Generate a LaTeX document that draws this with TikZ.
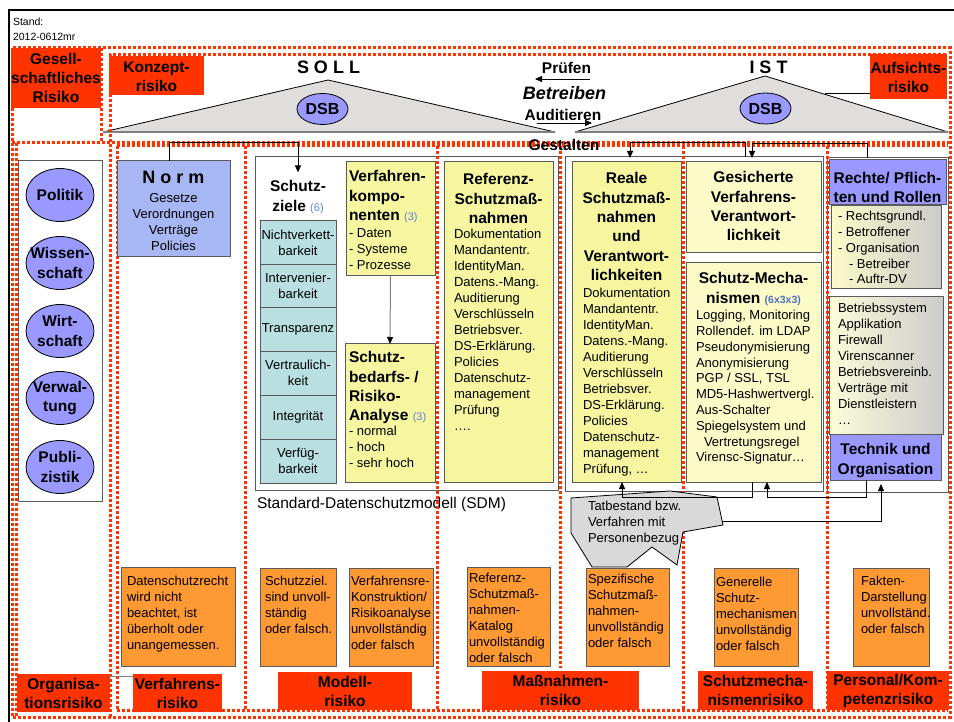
\documentclass[tikz,border=0pt]{standalone}
\usepackage{fontspec}
\setmainfont{Liberation Sans}
\usetikzlibrary{arrows.meta,shapes.geometric,fit}

\definecolor{riskred}{HTML}{FF3300}
\definecolor{riskorange}{HTML}{FF9933}
\definecolor{lila}{HTML}{9999FF}
\definecolor{normblau}{HTML}{A7B7F3}
\definecolor{gelb}{HTML}{F6F6A0}
\definecolor{hellgelb}{HTML}{FBFBC8}
\definecolor{zieltuerkis}{HTML}{B9DFE1}
\definecolor{hausgrau}{HTML}{E0DDDD}
\definecolor{tatgrau}{HTML}{D9D9D9}
\definecolor{rahmen}{HTML}{5A5A5A}
\definecolor{zahlblau}{HTML}{5B85E0}

% small blue counters inside the titles
\newcommand{\anz}[1]{{\color{zahlblau}\mdseries\fontsize{11}{11}\selectfont #1}}

\tikzset{
  risk/.style={draw=riskred, line width=3pt, dash pattern=on 3pt off 2pt},
  rlabel/.style={fill=riskred},
  rtext/.style={font=\bfseries\fontsize{15.5}{19}\selectfont, align=center},
  panel/.style={draw=rahmen, line width=1pt},
  ybox/.style={draw=rahmen, line width=1pt, fill=gelb},
  hbox/.style={draw=rahmen, line width=1pt, fill=hellgelb},
  lbox/.style={draw=rahmen, line width=1pt, fill=lila},
  obox/.style={draw=rahmen, line width=1pt, fill=riskorange},
  zelle/.style={draw=rahmen, line width=1pt, fill=zieltuerkis},
  ztext/.style={font=\fontsize{13}{16}\selectfont, align=center},
  body/.style={font=\fontsize{13}{16}\selectfont, align=left, anchor=north west},
  titel/.style={font=\bfseries\fontsize{15.5}{19.4}\selectfont, align=center, anchor=north},
  ltitel/.style={font=\bfseries\fontsize{15.5}{19.4}\selectfont, align=left, anchor=north west},
  ell/.style={ellipse, draw=black, line width=0.8pt, fill=lila, minimum width=68pt, minimum height=53pt},
  elltext/.style={font=\bfseries\fontsize{15.5}{19.5}\selectfont, align=center},
  dsb/.style={ellipse, draw=black, line width=0.8pt, fill=lila, minimum width=51pt, minimum height=31pt, font=\bfseries\fontsize{16}{16}\selectfont},
  mitte/.style={font=\bfseries\fontsize{15.5}{16}\selectfont},
  pfeil/.style={draw=black, line width=0.8pt, -{Triangle[width=6pt,length=7pt]}},
  pfeilgrau/.style={draw=gray, line width=1pt, -{Triangle[width=6pt,length=7pt,color=black,fill=black]}},
  linie/.style={draw=black, line width=0.8pt},
}

\begin{document}
\begin{tikzpicture}[x=1pt, y=-1pt, every node/.style={inner sep=0pt, outer sep=0pt}]
\useasboundingbox (0,0) rectangle (954,722);
\fill[white] (0,0) rectangle (954,722);

% page frame
\draw[line width=2.5pt] (954,10) -- (9,10) -- (9,722);
\node[anchor=north west, font=\fontsize{10.5}{15}\selectfont, align=left] (stand) at (13,17.5) {Stand:\\2012-0612mr};

% SOLL and IST roofs
\fill[hausgrau] (103,132) -- (328,80) -- (555,132) -- cycle;
\draw[line width=0.8pt] (103,132) -- (328,80) -- (555,132);
\fill[hausgrau] (575,132) -- (765,76) -- (948,132) -- cycle;
\draw[line width=0.8pt] (575,132) -- (765,76) -- (948,132);
\draw[line width=2pt, draw=gray] (103,132) -- (555,132) (575,132) -- (948,132);
\coordinate (istdach) at (825,93);

\node[font=\bfseries\fontsize{18}{18}\selectfont] (soll) at (328.5,67) {S O L L};
\node[font=\bfseries\fontsize{18}{18}\selectfont] (ist) at (768.5,67) {I S T};
\node[dsb] (dsbsoll) at (322.5,109) {DSB};
\node[dsb] (dsbist) at (765.5,108.5) {DSB};

% verbs between SOLL and IST
\node[mitte] (pruefen) at (566.5,68) {Prüfen};
\coordinate (pruefA) at (590,79);
\coordinate (pruefB) at (535,79);
\node[font=\bfseries\itshape\fontsize{18}{18}\selectfont] (betreiben) at (564.5,93) {Betreiben};
\node[mitte] (auditieren) at (563,115) {Auditieren};
\coordinate (audA) at (537,123);
\coordinate (audB) at (592,123);

% panels
\node[panel, fit={(18,161) (102,501)}] (links) {};
\node[panel, fit={(255,157) (558,490)}] (sdm) {};
\node[panel, fit={(565,157) (823,491)}] (istbox) {};
\node[panel, fit={(827,158) (948,492)}] (pbox) {};
\node[anchor=west, font=\fontsize{15.5}{16}\selectfont] (sdmname) at (257,504) {Standard-Datenschutzmodell (SDM)};

% risk areas (each dotted segment drawn once)
\draw[risk] (12,48) rectangle (950,717);
\draw[risk] (101,48) -- (101,143);
\draw[risk] (110,717) -- (110,55) -- (947,55);
\draw[risk] (12,143) -- (950,143);
\draw[risk] (16,143) -- (16,717);
\draw[risk] (117,146) -- (948,146);
\draw[risk] (117,710) -- (948,710);
\foreach \sx in {117,245,437,683,827} {
  \draw[risk] (\sx,146) -- (\sx,710);
}
\draw[risk] (560,146) -- (560,668);

\node[mitte] (gestalten) at (564,145) {Gestalten};

% society column
\node[ell, label={[elltext]center:Politik}] (politik) at (60,195) {};
\node[ell, label={[elltext]center:{Wissen-\\schaft}}] (wissenschaft) at (60,263) {};
\node[ell, label={[elltext]center:{Wirt-\\schaft}}] (wirtschaft) at (60,331) {};
\node[ell, label={[elltext]center:{Verwal-\\tung}}] (verwaltung) at (60,398) {};
\node[ell, label={[elltext]center:{Publi-\\zistik}}] (publizistik) at (60,467) {};

% norm
\node[draw=rahmen, line width=1pt, fill=normblau, fit={(117,161) (230,257)}] (norm) {};
\node[anchor=north, font=\bfseries\fontsize{18}{18}\selectfont] (normtitel) at (173.5,171.5) {N o r m};
\node[body, anchor=north, align=center] (normtext) at (173.5,193.3) {Gesetze\\Verordnungen\\Verträge\\Policies};

% protection goals
\node[titel] (szt) at (298,180.4) {Schutz-\\ziele \anz{(6)}};
\node[zelle, fit={(260,221) (336,264.5)}] (z1) {};
\node[zelle, fit={(260,264.5) (336,308)}] (z2) {};
\node[zelle, fit={(260,308) (336,351.5)}] (z3) {};
\node[zelle, fit={(260,351.5) (336,395)}] (z4) {};
\node[zelle, fit={(260,395) (336,439)}] (z5) {};
\node[zelle, fit={(260,439) (336,483)}] (z6) {};
\node[ztext] (z1t) at (z1.center) {Nichtverkett-\\barkeit};
\node[ztext] (z2t) at (z2.center) {Intervenier-\\barkeit};
\node[ztext] (z3t) at (z3.center) {Transparenz};
\node[ztext] (z4t) at (z4.center) {Vertraulich-\\keit};
\node[ztext] (z5t) at (z5.center) {Integrität};
\node[ztext] (z6t) at (z6.center) {Verfüg-\\barkeit};

% procedure components and risk analysis
\node[ybox, fit={(346,162) (435,276)}] (vk) {};
\node[ltitel] (vktitel) at (349,170.4) {Verfahren-\\kompo-\\nenten \anz{(3)}};
\node[body] (vktext) at (349,228.3) {- Daten\\- Systeme\\- Prozesse};
\node[ybox, fit={(345,344) (435,482)}] (sb) {};
\node[ltitel] (sbtitel) at (349,351.4) {Schutz-\\bedarfs- /\\Risiko-\\Analyse \anz{(3)}};
\node[body] (sbtext) at (349,426.3) {- normal\\- hoch\\- sehr hoch};

% reference measures
\node[ybox, fit={(444,162) (553,482)}] (ref) {};
\node[titel] (reftitel) at (498.5,173.4) {Referenz-\\Schutzmaß-\\nahmen};
\node[body] (reftext) at (454,229.3) {Dokumentation\\Mandantentr.\\IdentityMan.\\Datens.-Mang.\\Auditierung\\Verschlüsseln\\Betriebsver.\\DS-Erklärung.\\Policies\\Datenschutz-\\management\\Prüfung\\….};

% real measures
\node[ybox, fit={(572,162) (681,482)}] (reale) {};
\node[titel] (realetitel) at (626.5,172.4) {Reale\\Schutzmaß-\\nahmen\\und\\Verantwort-\\lichkeiten};
\node[body] (realetext) at (583,288.3) {Dokumentation\\Mandantentr.\\IdentityMan.\\Datens.-Mang.\\Auditierung\\Verschlüsseln\\Betriebsver.\\DS-Erklärung.\\Policies\\Datenschutz-\\management\\Prüfung, …};

% responsibility and mechanisms
\node[hbox, fit={(686,162) (821,253)}] (gvv) {};
\node[titel] (gvvtitel) at (753.5,171.4) {Gesicherte\\Verfahrens-\\Verantwort-\\lichkeit};
\node[hbox, fit={(686,263) (821,482)}] (smech) {};
\node[titel] (smechtitel) at (753.5,272.4) {Schutz-Mecha-\\nismen {\color{zahlblau!85!black}\fontsize{10.5}{10}\selectfont(6x3x3)}};
\node[body, font=\fontsize{13}{15.8}\selectfont] (smechtext) at (696,310.3) {Logging, Monitoring\\Rollendef. im LDAP\\Pseudonymisierung\\Anonymisierung\\PGP / SSL, TSL\\MD5-Hashwertvergl.\\Aus-Schalter\\Spiegelsystem und\\\hspace*{8pt}Vertretungsregel\\Virensc-Signatur…};

% rights, roles, technology
\node[lbox, fit={(829,160) (946,205)}] (rechte) {};
\node[titel, font=\bfseries\fontsize{15.5}{19}\selectfont] (rechtetitel) at (887.5,172.4) {Rechte/ Pflich-\\ten und Rollen};
\node[draw=rahmen, line width=1pt, left color=hellgelb, right color=gray!40, fit={(831,206) (941,289)}] (rgl) {};
\node[body, font=\fontsize{13}{15.8}\selectfont] (rgltext) at (838,211.3) {- Rechtsgrundl.\\- Betroffener\\- Organisation\\\hspace*{11pt}- Betreiber\\\hspace*{11pt}- Auftr-DV};
\node[draw=rahmen, line width=1pt, left color=hellgelb!70!white, right color=gray!40, fit={(829,297) (943,434)}] (bsys) {};
\node[body] (bsystext) at (838,303.3) {Betriebssystem\\Applikation\\Firewall\\Virenscanner\\Betriebsvereinb.\\Verträge mit\\Dienstleistern\\…};
\node[lbox, fit={(830,434) (941,480)}] (tech) {};
\node[titel, font=\bfseries\fontsize{15.5}{20}\selectfont] (techtitel) at (885.5,443.4) {Technik und\\Organisation};

% processing with personal reference
\filldraw[fill=tatgrau, draw=black, line width=0.8pt] (571,498) -- (670,491) -- (717,497) -- (723,525) -- (683,532) -- (677,565) -- (652,547) -- (627,567) -- (592,567) -- (571,533) -- cycle;
\node[body] (tat) at (588,501.3) {Tatbestand bzw.\\Verfahren mit\\Personenbezug};
\coordinate (tatR) at (722,521);

% risk descriptions
\node[obox, fit={(121,567) (235,666)}] (o1) {};
\node[body] (o1t) at (127,576.3) {Datenschutzrecht\\wird nicht\\beachtet, ist\\überholt oder\\unangemessen.};
\node[obox, fit={(260,568) (336,666)}] (o2) {};
\node[body] (o2t) at (265,576.3) {Schutzziel.\\sind unvoll-\\ständig\\oder falsch.};
\node[obox, fit={(349,568) (433,666)}] (o3) {};
\node[body] (o3t) at (351,576.3) {Verfahrensre-\\Konstruktion/\\Risikoanalyse\\unvollständig\\oder falsch};
\node[obox, fit={(467,567) (550,666)}] (o4) {};
\node[body] (o4t) at (469,573.3) {Referenz-\\Schutzmaß-\\nahmen-\\Katalog\\unvollständig\\oder falsch};
\node[obox, fit={(586,568) (669,666)}] (o5) {};
\node[body] (o5t) at (588,574.3) {Spezifische\\Schutzmaß-\\nahmen-\\unvollständig\\oder falsch};
\node[obox, fit={(714,568) (798,666)}] (o6) {};
\node[body] (o6t) at (716,576.8) {Generelle\\Schutz-\\mechanismen\\unvollständig\\oder falsch};
\node[obox, fit={(853,568) (929,666)}] (o7) {};
\node[body] (o7t) at (861,576.3) {Fakten-\\Darstellung\\unvollständ.\\oder falsch};

% risk labels
\node[rlabel, fit={(11,48) (101,108)}] (ges) {};
\node[rlabel, fit={(109,56) (204,95)}] (konz) {};
\node[rlabel, fit={(870,54) (947,99)}] (aufs) {};
\node[rlabel, fit={(17,674) (110,712)}] (org) {};
\node[rlabel, fit={(133,674) (222,712)}] (verf) {};
\node[rlabel, fit={(278,672) (412,710)}] (mod) {};
\node[rlabel, fit={(482,671) (639,710)}] (mass) {};
\node[rlabel, fit={(698,671) (813,710)}] (smr) {};
\node[rlabel, fit={(827,671) (949,710)}] (pers) {};
\node[rtext] (gest) at (ges.center) {Gesell-\\schaftliches\\Risiko};
\node[rtext] (konzt) at ([yshift=-1.5pt]konz.center) {Konzept-\\risiko};
\node[rtext] (aufst) at ([yshift=-1pt]aufs.center) {Aufsichts-\\risiko};
\node[rtext] (orgt) at (org.center) {Organisa-\\tionsrisiko};
\node[rtext] (verft) at (verf.center) {Verfahrens-\\risiko};
\node[rtext] (modt) at (mod.center) {Modell-\\risiko};
\node[rtext] (masst) at (mass.center) {Maßnahmen-\\risiko};
\node[rtext] (smrt) at (smr.center) {Schutzmecha-\\nismenrisiko};
\node[rtext] (perst) at (pers.center) {Personal/Kom-\\petenzrisiko};

% connectors
\draw[pfeil] (pruefA) -- (pruefB);
\draw[pfeil] (audA) -- (audB);
\draw[linie] (istdach) -- (istdach -| aufs.west);
\draw[linie, draw=gray] ([yshift=17pt]org.east) -- ([yshift=17pt]verf.west);
\draw[pfeil] ([xshift=-4.5pt]norm.north) -- ++(0,-19) -| ([yshift=8pt]szt.north);
\draw[pfeilgrau] (vk.south) -- (sb.north);
\draw[pfeil] ([xshift=51pt]istbox.north) -- ++(0,-15) -| ([xshift=3.5pt,yshift=4pt]reale.north);
\draw[pfeil] ([xshift=-20.5pt]pbox.north) -- ++(0,-15) -| ([xshift=-1.5pt,yshift=4pt]gvv.north);
\draw[pfeil] ([xshift=-1.5pt]smech.south) -- ++(0,15) -| ([xshift=-4.5pt]reale.south);
\draw[pfeil] ([xshift=-19.5pt]tech.south) -- ++(0,17) -| ([xshift=13.5pt]smech.south);
\draw[pfeil] (tatR) -| ([xshift=-4.5pt,yshift=-4pt]tech.south);
\end{tikzpicture}
\end{document}
